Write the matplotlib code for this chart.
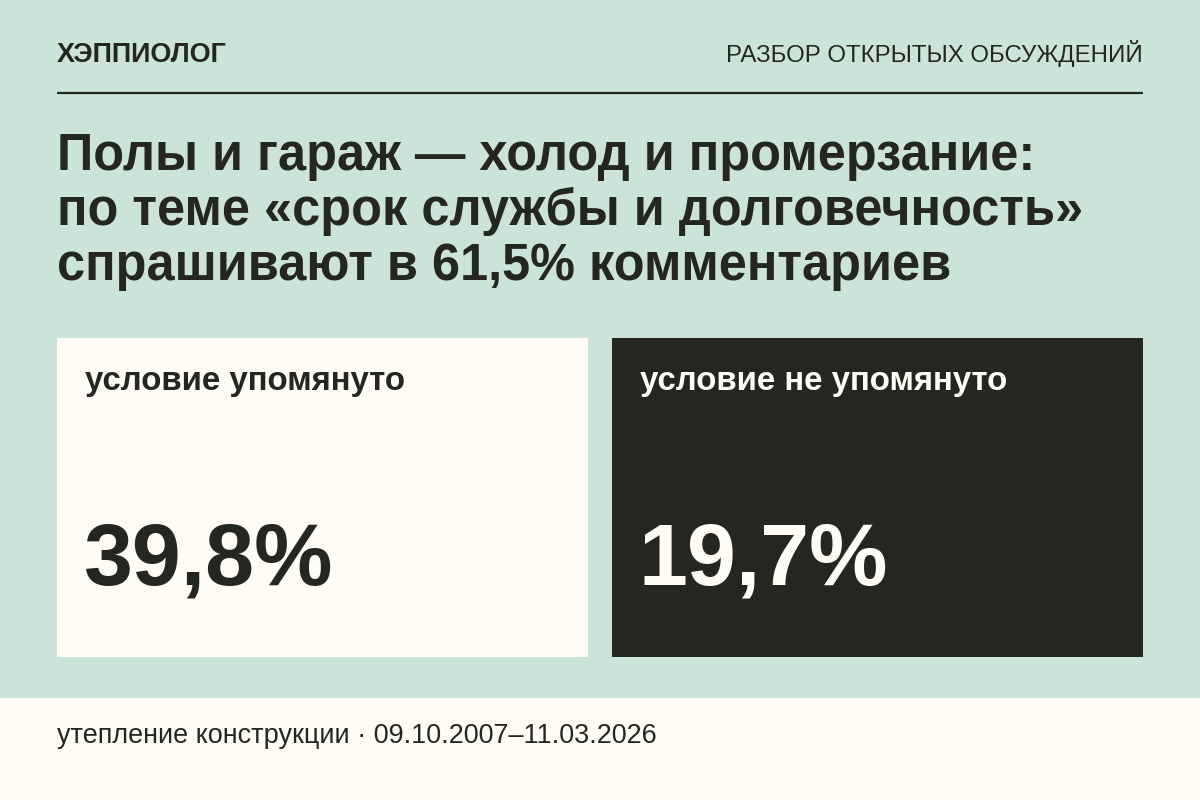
import matplotlib
matplotlib.use('Agg')
import matplotlib.pyplot as plt
from matplotlib.patches import Rectangle

# data
brand = 'ХЭППИОЛОГ'
section = 'РАЗБОР ОТКРЫТЫХ ОБСУЖДЕНИЙ'
title_lines = ['Полы и гараж — холод и промерзание:',
               'по теме «срок службы и долговечность»',
               'спрашивают в 61,5% комментариев']
card_labels = ['условие упомянуто', 'условие не упомянуто']
card_values = [39.8, 19.7]
footer_topic = 'утепление конструкции'
footer_period = '09.10.2007–11.03.2026'

BG = '#cce3da'
CREAM = '#fefcf5'
DARK = '#23271f'

plt.rcParams['font.family'] = ['Liberation Sans', 'DejaVu Sans']

fig = plt.figure(figsize=(12, 8), dpi=100)
fig.patch.set_facecolor(BG)
ax = fig.add_axes([0, 0, 1, 1])
ax.set_xlim(0, 1200)
ax.set_ylim(800, 0)
ax.axis('off')

def pt(px):
    return px * 0.72

# header
ax.text(57, 62, brand, fontsize=pt(27), fontweight='bold', color=DARK, va='baseline')
ax.text(1143, 62, section, fontsize=pt(24), color=DARK, va='baseline', ha='right')
ax.plot([57, 1143], [93, 93], color=DARK, lw=1.6, solid_capstyle='butt')

# title
for i, line in enumerate(title_lines):
    ax.text(57, 170 + i * 55, line, fontsize=pt(50.5), fontweight='bold',
            color=DARK, va='baseline')

# cards
card_x = [57, 612]
card_w = 531
card_fill = [CREAM, DARK]
card_text = [DARK, CREAM]
for x, lab, val, fc, tc in zip(card_x, card_labels, card_values, card_fill, card_text):
    ax.add_patch(Rectangle((x, 338), card_w, 319, facecolor=fc, edgecolor='none'))
    ax.text(x + 28, 390, lab, fontsize=pt(33), fontweight='bold', color=tc, va='baseline')
    ax.text(x + 27, 584, f'{val:.1f}%'.replace('.', ','), fontsize=pt(88),
            fontweight='bold', color=tc, va='baseline')

# footer
ax.add_patch(Rectangle((0, 698), 1200, 102, facecolor=CREAM, edgecolor='none'))
ax.text(57, 743, f'{footer_topic} · {footer_period}', fontsize=pt(27),
        color=DARK, va='baseline')

fig.savefig('out.png', dpi=100, facecolor=BG)
